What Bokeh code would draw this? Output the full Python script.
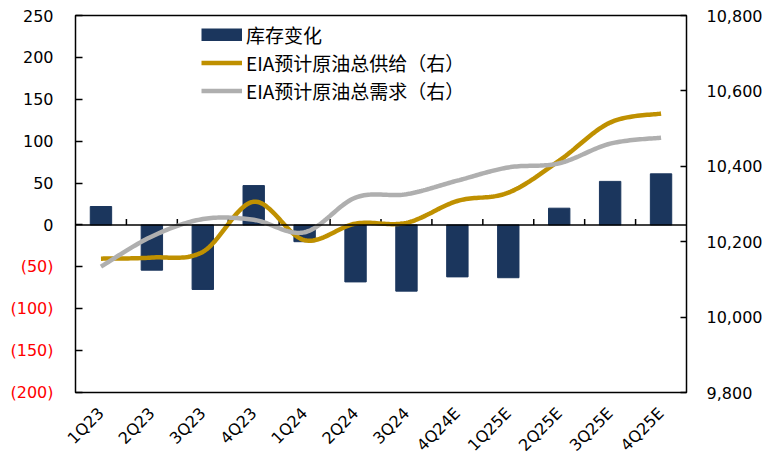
import numpy as np
from bokeh.plotting import figure
from bokeh.models import (FactorRange, Range1d, LinearAxis, FixedTicker, NumeralTickFormatter,
                          Span, Legend, LegendItem, ColumnDataSource)
from bokeh.embed import file_html
from bokeh.resources import INLINE

# ---------------- data ----------------
categories = ["1Q23", "2Q23", "3Q23", "4Q23", "1Q24", "2Q24", "3Q24",
              "4Q24E", "1Q25E", "2Q25E", "3Q25E", "4Q25E"]
inventory_change = [22, -54, -77, 47, -20, -68, -79, -62, -63, 20, 52, 61]
eia_supply = [10155, 10158, 10173, 10306, 10204, 10248, 10250, 10308, 10330, 10415, 10516, 10540]
eia_demand = [10134, 10214, 10260, 10258, 10225, 10317, 10326, 10362, 10397, 10408, 10460, 10476]
left_ticks = [-200, -150, -100, -50, 0, 50, 100, 150, 200, 250]
left_tick_labels = ["(200)", "(150)", "(100)", "(50)", "0", "50", "100", "150", "200", "250"]
right_ticks = [9800, 10000, 10200, 10400, 10600, 10800]
legend_labels = ["库存变化", "EIA预计原油总供给（右）", "EIA预计原油总需求（右）"]

BAR_COLOR = "#1B365D"
SUPPLY_COLOR = "#BF9000"
DEMAND_COLOR = "#AFAFAF"
TICK_FONT = "DejaVu Sans"
LEGEND_FONT = "Noto Sans CJK SC"


def smooth(ys, n=24):
    """Bezier (Catmull-Rom style) smoothing through points at category centres."""
    pts = np.array([[i + 0.5, y] for i, y in enumerate(ys)], dtype=float)
    out_x, out_y = [], []
    m = len(pts)
    for i in range(m - 1):
        p0 = pts[i - 1] if i > 0 else pts[i]
        p1 = pts[i]
        p2 = pts[i + 1]
        p3 = pts[i + 2] if i + 2 < m else pts[i + 1]
        c1 = p1 + (p2 - p0) / 6.0
        c2 = p2 - (p3 - p1) / 6.0
        t = np.linspace(0, 1, n, endpoint=(i == m - 2))
        b = ((1 - t) ** 3)[:, None] * p1 + (3 * (1 - t) ** 2 * t)[:, None] * c1 \
            + (3 * (1 - t) * t ** 2)[:, None] * c2 + (t ** 3)[:, None] * p2
        out_x.extend(b[:, 0])
        out_y.extend(b[:, 1])
    return out_x, out_y


p = figure(x_range=FactorRange(*categories, range_padding=0),
           y_range=Range1d(left_ticks[0], left_ticks[-1]),
           frame_width=611, frame_height=377,
           min_border_left=75, min_border_right=82, min_border_top=15, min_border_bottom=60,
           output_backend="svg", toolbar_location=None)
p.extra_y_ranges = {"right": Range1d(right_ticks[0], right_ticks[-1])}

p.xgrid.visible = False
p.ygrid.visible = False
p.outline_line_color = "black"
p.outline_line_width = 1.5
p.background_fill_color = "white"
p.border_fill_color = "white"

# bars
src = ColumnDataSource(dict(cat=categories, val=inventory_change))
bars = p.vbar(x="cat", top="val", bottom=0, width=0.42, source=src,
              fill_color=BAR_COLOR, line_color=BAR_COLOR)
# legend proxy for the bar series (solid swatch, draws nothing in the plot)
bar_swatch = p.line(x=np.array([0.5, 0.5]), y=np.array([np.nan, np.nan]),
                    line_color=BAR_COLOR, line_width=13)

# zero line with category boundary ticks
p.add_layout(Span(location=0, dimension="width", line_color="black", line_width=1.5))
bounds = list(range(1, len(categories)))
p.segment(x0=bounds, y0=[0] * len(bounds), x1=bounds, y1=[7] * len(bounds),
          line_color="black", line_width=1.5)

# lines on right axis
sx, sy = smooth(eia_supply)
dx, dy = smooth(eia_demand)
l_sup = p.line(sx, sy, y_range_name="right", line_color=SUPPLY_COLOR, line_width=4.5)
l_dem = p.line(dx, dy, y_range_name="right", line_color=DEMAND_COLOR, line_width=4.5)


def style_axis(ax, standoff, tick_in, color="black"):
    ax.axis_line_color = None
    ax.major_tick_in = tick_in
    ax.major_tick_out = 0
    ax.major_tick_line_width = 1.5
    ax.minor_tick_line_color = None
    ax.major_label_standoff = standoff
    ax.major_label_text_font = TICK_FONT
    ax.major_label_text_font_size = "16px"
    ax.major_label_text_color = color


# inner left axis: all ticks, non-negative labels in black
ya = p.yaxis[0]
ya.ticker = FixedTicker(ticks=left_ticks)
ya.major_label_overrides = {t: (lbl if t >= 0 else "") for t, lbl in zip(left_ticks, left_tick_labels)}
style_axis(ya, 22, 7)

# outer left axis: negative labels in red, pulled back next to the frame
neg_ticks = [t for t in left_ticks if t < 0]
ya_neg = LinearAxis(ticker=FixedTicker(ticks=neg_ticks))
ya_neg.major_label_overrides = {t: lbl for t, lbl in zip(left_ticks, left_tick_labels) if t < 0}
style_axis(ya_neg, -34, 0, color="red")
ya_neg.major_tick_line_color = None
p.add_layout(ya_neg, "left")

# right axis
ra = LinearAxis(y_range_name="right", ticker=FixedTicker(ticks=right_ticks),
                formatter=NumeralTickFormatter(format="0,0"))
style_axis(ra, 20, 6)
p.add_layout(ra, "right")

# x axis
xa = p.xaxis[0]
xa.axis_line_color = None
xa.major_tick_line_color = None
xa.minor_tick_line_color = None
xa.major_label_orientation = np.pi / 4
xa.major_label_standoff = 12
xa.major_label_text_font = TICK_FONT
xa.major_label_text_font_size = "16px"
xa.major_label_text_color = "black"

# legend
legend = Legend(items=[LegendItem(label=legend_labels[0], renderers=[bar_swatch]),
                       LegendItem(label=legend_labels[1], renderers=[l_sup]),
                       LegendItem(label=legend_labels[2], renderers=[l_dem])],
                location=(126, 288), orientation="vertical",
                glyph_width=41, glyph_height=13, label_height=20, spacing=1,
                padding=0, margin=0, label_standoff=4,
                border_line_color=None, background_fill_alpha=0,
                label_text_font=LEGEND_FONT, label_text_font_size="19px",
                label_text_color="black")
p.add_layout(legend)

open("out.html", "w").write(file_html(p, INLINE))
